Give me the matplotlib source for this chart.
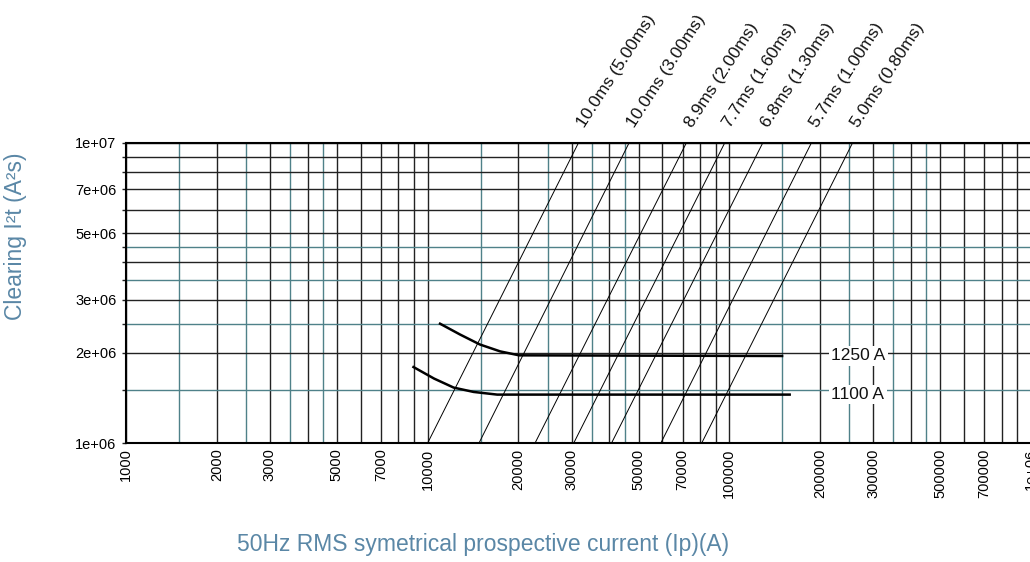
import matplotlib
matplotlib.use("Agg")
import matplotlib.pyplot as plt
from matplotlib.ticker import FixedLocator, FuncFormatter, NullFormatter

plt.rcParams['font.family'] = ['Liberation Sans', 'DejaVu Sans']

# pre-arcing / clearing time lines: current at I2t = 1e6 and at I2t = 1e7
line_labels = ["10.0ms (5.00ms)", "10.0ms (3.00ms)", "8.9ms (2.00ms)", "7.7ms (1.60ms)",
               "6.8ms (1.30ms)", "5.7ms (1.00ms)", "5.0ms (0.80ms)"]
line_i_low = [10000, 14800, 22700, 30500, 40700, 59300, 81000]
line_i_high = [31600, 46500, 72000, 96500, 129000, 187000, 256000]
line_i2t = [1e6, 1e7]

# fuse curves
fuse_labels = ["1250 A", "1100 A"]
fuse_i = [
    [10900, 12800, 14900, 17400, 20100, 151000],
    [8900, 10500, 12200, 14200, 17000, 160000],
]
fuse_i2t = [
    [2.51e6, 2.30e6, 2.13e6, 2.02e6, 1.96e6, 1.95e6],
    [1.80e6, 1.64e6, 1.53e6, 1.48e6, 1.45e6, 1.45e6],
]
fuse_label_x = 218000

xdecades = [1e3, 1e4, 1e5]
ydecades = [1e6]
labelled = [1, 2, 3, 5, 7]

label_col = "#5a87a6"
teal = "#4f8189"
dark = "#222222"

fig = plt.figure(figsize=(10.30, 5.62), dpi=100)
ax = fig.add_axes([0.1223, 0.2117, 0.8787, 0.5339])
ax.set_xscale("log")
ax.set_yscale("log")
ax.set_xlim(1e3, 1e6)
ax.set_ylim(1e6, 1e7)

xmaj = [d * m for d in xdecades for m in range(1, 10)] + [1e6]
xmin = [d * m for d in xdecades for m in (1.5, 2.5, 3.5, 4.5)]
ymaj = [d * m for d in ydecades for m in range(1, 10)] + [1e7]
ymin = [d * m for d in ydecades for m in (1.5, 2.5, 3.5, 4.5)]


def fmt(v, pos):
    m = round(v / 10 ** len(str(int(round(v)))) * 10, 3)
    if m in labelled:
        return "%g" % v
    return ""


ax.xaxis.set_major_locator(FixedLocator(xmaj))
ax.xaxis.set_minor_locator(FixedLocator(xmin))
ax.yaxis.set_major_locator(FixedLocator(ymaj))
ax.yaxis.set_minor_locator(FixedLocator(ymin))
ax.xaxis.set_major_formatter(FuncFormatter(fmt))
ax.yaxis.set_major_formatter(FuncFormatter(fmt))
ax.xaxis.set_minor_formatter(NullFormatter())
ax.yaxis.set_minor_formatter(NullFormatter())

ax.grid(which="major", color=dark, lw=1.0)
ax.grid(which="minor", color=teal, lw=1.0)
ax.set_axisbelow(True)

ax.tick_params(axis="x", which="both", length=0, pad=4, labelsize=10.5, rotation=90)
ax.tick_params(axis="y", which="both", length=3, width=1, color=dark, pad=4, labelsize=10.5)

for s in ("left", "bottom", "top"):
    ax.spines[s].set_linewidth(1.5)
    ax.spines[s].set_color("black")
ax.spines["right"].set_visible(False)

for lab, lo, hi in zip(line_labels, line_i_low, line_i_high):
    ax.plot([lo, hi], line_i2t, color="black", lw=0.7)
    ax.annotate(lab, (hi, line_i2t[1]), xytext=(6, 9), textcoords="offset points",
                rotation=57, rotation_mode="anchor", ha="left", va="bottom",
                fontsize=12.5, color="#111111")

for lab, xs, ys in zip(fuse_labels, fuse_i, fuse_i2t):
    ax.plot(xs, ys, color="black", lw=1.8, solid_capstyle="butt")
    ax.text(fuse_label_x, ys[-1], lab, ha="left", va="center", fontsize=12.5,
            color="#111111", bbox=dict(fc="white", ec="none", pad=1.5))

fig.text(0.015, 0.58, "Clearing I²t (A²s)", rotation=90, ha="center", va="center",
         fontsize=16.5, color=label_col)
fig.text(0.469, 0.032, "50Hz RMS symetrical prospective current (Ip)(A)",
         ha="center", va="center", fontsize=16.5, color=label_col)

fig.savefig("out.png", dpi=100)
